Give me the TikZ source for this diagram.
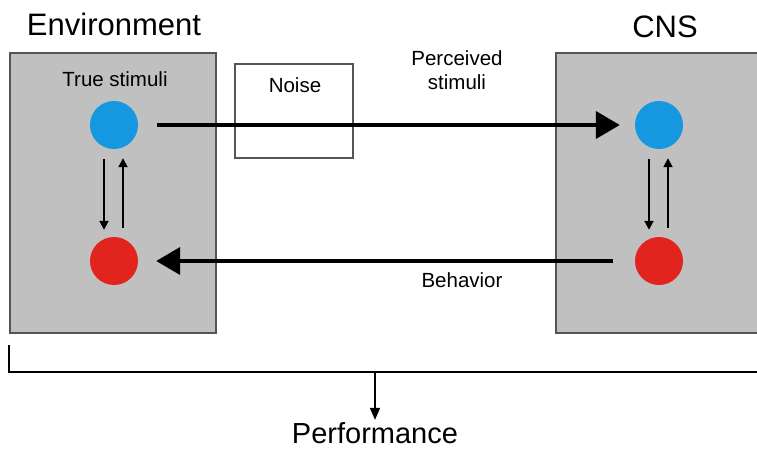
\documentclass[tikz,border=0pt]{standalone}
\usepackage{fontspec}
\setmainfont{Liberation Sans}
\usepackage{tikz}
\usetikzlibrary{arrows.meta, positioning, calc}
\definecolor{panelgray}{RGB}{192,192,192}
\definecolor{panelline}{RGB}{85,85,85}
\definecolor{stimblue}{RGB}{22,152,224}
\definecolor{actred}{RGB}{226,36,30}

\begin{document}
\begin{tikzpicture}[x=1pt, y=-1pt,
    panel/.style={rectangle, draw=panelline, line width=1.6pt, fill=panelgray, inner sep=0pt},
    dot/.style={circle, fill=#1, minimum size=48pt, inner sep=0pt},
    title/.style={font=\fontsize{31}{35}\selectfont, anchor=base, inner sep=0pt},
    lbl/.style={font=\fontsize{20.5}{23.5}\selectfont, anchor=base, inner sep=0pt, align=center},
    bigarrow/.style={-{Triangle[length=24pt, width=27pt]}, line width=4pt},
    smallarrow/.style={-{Triangle[length=9pt, width=9pt]}, line width=1.8pt},
]
\useasboundingbox (0,0) rectangle (757,448);

% the two panels
\node[panel, minimum width=206pt, minimum height=280pt] (env) at (113,193) {};
\node[panel, minimum width=206pt, minimum height=280pt] (cns) at (659,193) {};
\node[title] (envtitle) at (114,35) {Environment};
\node[title] (cnstitle) at (665,37) {CNS};

% noise box
\node[rectangle, draw=panelline, line width=1.4pt, fill=white, minimum width=118pt, minimum height=94pt] (noise) at (294,111) {};
\node[lbl] (noiselbl) at (295,92) {Noise};

% states
\node[dot=stimblue] (truestim) at (114,125) {};
\node[dot=actred] (trueact) at (114,261) {};
\node[dot=stimblue] (cnsstim) at (659,125) {};
\node[dot=actred] (cnsact) at (659,261) {};
\node[lbl] (truelbl) at (115,86) {True stimuli};

% perception and action
\draw[bigarrow, shorten <=19pt, shorten >=15pt] (truestim.east) -- (cnsstim.west);
\draw[bigarrow, shorten <=22pt, shorten >=18pt] (cnsact.west) -- (trueact.east);
\node[lbl] (perclbl) at (457,89) {Perceived\\stimuli};
\node[lbl] (behlbl) at (462,287) {Behavior};

% loops inside the panels
\foreach \s/\a in {truestim/trueact, cnsstim/cnsact} {
  \draw[smallarrow] ([xshift=-10pt, yshift=-10pt]\s.south) -- ([xshift=-10pt, yshift=7pt]\a.north);
  \draw[smallarrow] ([xshift=9pt, yshift=9pt]\a.north) -- ([xshift=9pt, yshift=-9pt]\s.south);
}

% performance bracket
\coordinate (brl) at (9,345);
\coordinate (brr) at (760,372);
\coordinate (brm) at (375,372);
\draw[line width=2.2pt] (brl) |- (brr);
\node[lbl, font=\fontsize{29}{33}\selectfont] (perf) at (375,443) {Performance};
\draw[-{Triangle[length=12pt, width=10pt]}, line width=1.8pt, shorten >=2pt] (brm) -- (perf.north);
\end{tikzpicture}
\end{document}
